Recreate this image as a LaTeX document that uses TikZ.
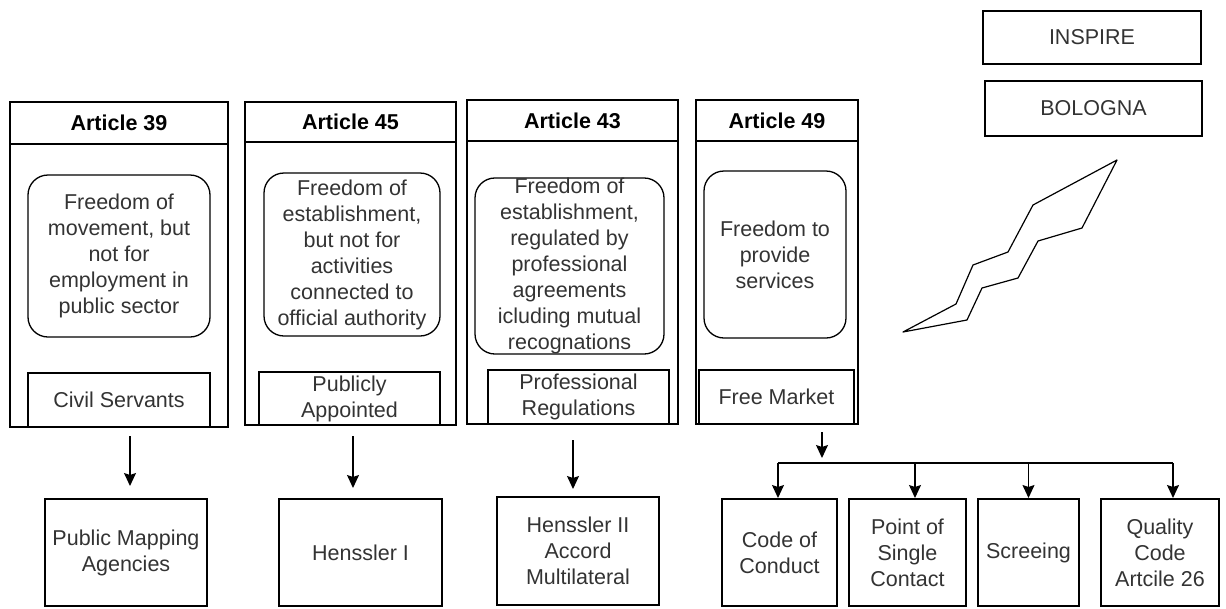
\documentclass[tikz,border=0pt]{standalone}
\usepackage{fontspec}
\setmainfont{Liberation Sans}
\usetikzlibrary{arrows.meta}
\newcommand\cbox[7]{\node[#1, minimum width={(#5)-(#3)}, minimum height={(#6)-(#4)}] (#2) at ({((#3)+(#5))/2},{((#4)+(#6))/2}) {#7};}
\begin{document}
\begin{tikzpicture}[x=1pt,y=-1pt,
  every node/.style={font=\fontsize{21.5}{26}\selectfont, text=black!80, align=center, inner sep=0pt, outer sep=0pt},
  box/.style={draw, line width=1.3pt},
  rbox/.style={draw, line width=1.3pt, rounded corners=20pt},
  hdr/.style={draw, line width=1.3pt, font=\fontsize{21.5}{26}\selectfont\bfseries, text=black},
  arr/.style={line width=1.3pt, -{Stealth[length=13pt,width=12pt,inset=2pt]}},
  plain/.style={line width=1.3pt}]
\useasboundingbox (0,0) rectangle (1226,608);

% Article 39
\cbox{box}{a39}{10}{102}{228}{427}{}
\cbox{hdr}{h39}{10}{102}{228}{144}{Article 39}
\cbox{rbox}{r39}{28}{175}{210}{337}{Freedom of\\movement, but\\not for\\employment in\\public sector}
\cbox{box}{civ}{28}{373}{210}{427}{Civil Servants}

% Article 45
\cbox{box}{a45}{245}{102}{456}{425}{}
\cbox{hdr}{h45}{245}{102}{456}{142}{Article 45}
\cbox{rbox}{r45}{264}{173}{440}{336}{Freedom of\\establishment,\\but not for\\activities\\connected to\\official authority}
\cbox{box}{pua}{259}{372}{440}{425}{Publicly\\Appointed}

% Article 43
\cbox{box}{a43}{467}{100}{678}{424}{}
\cbox{hdr}{h43}{467}{100}{678}{141}{Article 43}
\cbox{rbox}{r43}{475}{180}{664}{352}{Freedom of\\establishment,\\regulated by\\professional\\agreements\\icluding mutual\\recognations}
\cbox{box}{prr}{488}{370}{669}{424}{Professional\\Regulations}

% Article 49
\cbox{box}{a49}{696}{100}{858}{424}{}
\cbox{hdr}{h49}{696}{100}{858}{141}{Article 49}
\cbox{rbox}{r49}{704}{171}{846}{338}{Freedom to\\provide\\services}
\cbox{box}{fm}{699}{370}{854}{424}{Free Market}

% top right
\cbox{box}{insp}{983}{11}{1201}{64}{INSPIRE}
\cbox{box}{bol}{985}{81}{1202}{136}{BOLOGNA}

% lightning
\draw[plain, line width=1.2pt, line join=round] (903,332) -- (956,304) -- (973,265) -- (1008,252) -- (1033,205) -- (1117,160) -- (1082,228) -- (1038,241) -- (1018,278) -- (982,288) -- (967,320) -- cycle;

% bottom boxes
\cbox{box}{pma}{45}{499}{207}{606}{Public Mapping\\Agencies}
\cbox{box}{hs1}{279}{499}{442}{606}{Henssler I}
\cbox{box}{hs2}{497}{497}{659}{605}{Henssler II\\Accord\\Multilateral}
\cbox{box}{cc}{722}{499}{837}{606}{Code of\\Conduct}
\cbox{box}{psc}{849}{499}{966}{606}{Point of\\Single\\Contact}
\cbox{box}{scr}{978}{499}{1079}{606}{Screeing}
\cbox{box}{qc}{1101}{499}{1219}{606}{Quality\\Code\\Artcile 26}

% connectors
\draw[arr] ([xshift=11pt,yshift=-9pt]civ.south) -- ([xshift=4pt,yshift=13pt]pma.north);
\draw[arr] ([xshift=3.5pt,yshift=-11pt]pua.south) -- ([xshift=-7.5pt,yshift=11pt]hs1.north);
\draw[arr] ([xshift=-5.5pt,yshift=-16pt]prr.south) -- ([xshift=-5pt,yshift=8pt]hs2.north);
\draw[arr] ([xshift=45.5pt,yshift=-8pt]fm.south) -- ([xshift=45.5pt,yshift=-34pt]fm.south);
\coordinate (fork) at (822,463);
\draw[plain] ([xshift=-1.5pt]fork -| cc.north) -- ([xshift=13pt]fork -| qc.north);
\draw[arr] ([xshift=-1.5pt]fork -| cc.north) -- ([xshift=-1.5pt,yshift=1pt]cc.north);
\draw[arr] ([xshift=7.5pt]fork -| psc.north) -- ([xshift=7.5pt,yshift=1pt]psc.north);
\draw[arr] (fork -| scr.north) -- ([yshift=1pt]scr.north);
\draw[arr] ([xshift=13pt]fork -| qc.north) -- ([xshift=13pt,yshift=1pt]qc.north);
\end{tikzpicture}
\end{document}
